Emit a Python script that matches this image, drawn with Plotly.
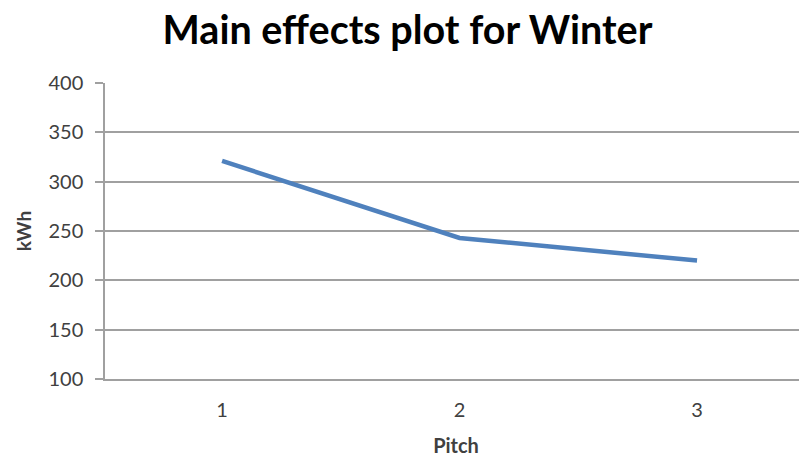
import plotly.graph_objects as go

# Main effects plot — winter energy use vs. pitch
pitch = ["1", "2", "3"]
kwh = [321, 243, 220]
y_ticks = [100, 150, 200, 250, 300, 350, 400]

GRID = "#a0a0a0"
TEXT = "#404040"

fig = go.Figure(
    go.Scatter(
        x=pitch,
        y=kwh,
        mode="lines",
        line=dict(color="#4f81bd", width=4.5),
        hoverinfo="x+y",
    )
)

# page body has an 8px margin, so the figure is offset by that much
fig.update_layout(
    width=799,
    height=449,
    margin=dict(l=97, r=0, t=75, b=78),
    paper_bgcolor="white",
    plot_bgcolor="white",
    showlegend=False,
    font=dict(family="Lato, 'Open Sans', sans-serif", color=TEXT, size=20),
    title=dict(
        text="<b>Main effects plot for Winter</b>",
        x=0.5,
        xanchor="center",
        y=0.951,
        yanchor="middle",
        font=dict(size=39.5, color="black"),
    ),
)

fig.update_xaxes(
    type="category",
    range=[-0.493, 2.463],
    showgrid=False,
    showline=True,
    linecolor=GRID,
    linewidth=1.5,
    ticks="",
    ticklabelstandoff=12,
    title=dict(text="<b>Pitch</b>", font=dict(size=20, color=TEXT), standoff=20),
)

fig.update_yaxes(
    range=[100, 400],
    tickvals=y_ticks,
    showgrid=True,
    gridcolor=GRID,
    gridwidth=1.5,
    showline=True,
    linecolor=GRID,
    linewidth=1.5,
    ticks="outside",
    ticklen=8,
    tickcolor=GRID,
    tickwidth=1.5,
    ticklabelstandoff=8,
    zeroline=False,
    title=dict(text="<b>kWh</b>", font=dict(size=19, color=TEXT), standoff=12),
)

fig.write_html("out.html")
